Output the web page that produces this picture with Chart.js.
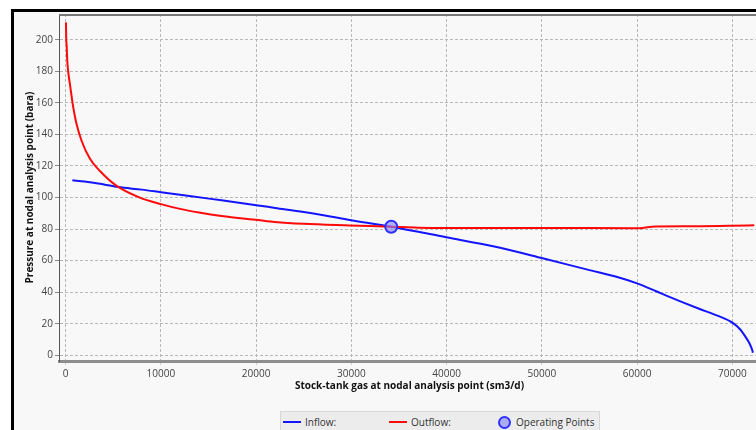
<!DOCTYPE html>
<html>
<head>
<meta charset="utf-8">
<script src="https://cdn.jsdelivr.net/npm/chart.js@4.4.0/dist/chart.umd.min.js"></script>
<style>
  html, body { margin: 0; padding: 0; background: #fff; overflow: hidden; width: 756px; height: 430px; }
  #frame {
    position: absolute; left: 11px; top: 9px; width: 800px; height: 440px;
    border-left: 3px solid #000; border-top: 3px solid #000; background: #f8f8f8;
  }
  #chart { position: absolute; left: 0; top: -6px; display: block; }
  #legend {
    position: absolute; left: 266px; top: 399px; width: 318px; height: 30px;
    background: #ececec; border: 1px solid #d6d6d6;
    font: 10px "Open Sans", sans-serif; color: #333;
  }
  .item { position: absolute; top: 0; height: 20px; display: flex; align-items: center; white-space: nowrap; }
  .swatch-line { width: 18px; height: 2px; margin-right: 4px; }
  .swatch-dot { width: 9px; height: 9px; border-radius: 50%; border: 2px solid; margin-right: 5px; }
</style>
</head>
<body>
<div id="frame">
  <canvas id="chart" width="754" height="397"></canvas>
  <div id="legend"></div>
</div>
<script>
// Inflow performance curve (gas rate sm3/d, pressure bara)
const inflowRate = [700, 2000, 4000, 5520, 8000, 10000, 13000, 16360, 20200, 22000, 25000, 29800, 34180, 39950, 45000, 50080, 55000, 58000, 60000, 62000, 63000, 66500, 68500, 70000, 70800, 71400, 71800, 72100, 72150];
const inflowPressure = [110.9, 110.2, 108.3, 106.6, 105.0, 103.4, 101.0, 98.2, 95.0, 93.4, 90.8, 85.8, 81.5, 74.8, 68.9, 61.5, 54.0, 49.5, 45.6, 40.6, 38.0, 29.5, 25.0, 20.7, 16.5, 11.5, 7.5, 3.0, 1.6];

// Outflow (tubing) performance curve
const outflowRate = [30, 60, 100, 170, 300, 450, 800, 1150, 1680, 2550, 3600, 5320, 7790, 10000, 12000, 14000, 16360, 20200, 21950, 25000, 29800, 34180, 37000, 40000, 50000, 60200, 61900, 66000, 70000, 72300];
const outflowPressure = [211, 200, 197, 186.5, 178, 171.7, 157, 146.4, 135.8, 124.5, 116.8, 107.5, 99.9, 95.8, 92.8, 90.5, 88.3, 85.7, 84.5, 83.3, 82.3, 81.5, 80.9, 80.7, 80.7, 80.6, 81.7, 81.8, 82.1, 82.4];

// Intersection of the two curves
const operatingRate = [34180];
const operatingPressure = [81.5];

// Axis tick values
const xTicks = [0, 10000, 20000, 30000, 40000, 50000, 60000, 70000];
const yTicks = [0, 20, 40, 60, 80, 100, 120, 140, 160, 180, 200];

const pts = (xs, ys) => xs.map((x, i) => ({ x, y: ys[i] }));

const FONT = '"Open Sans", sans-serif';

const datasets = [
  {
    label: 'Inflow:', data: pts(inflowRate, inflowPressure), showLine: true,
    borderColor: '#1414ff', borderWidth: 2, pointRadius: 0, cubicInterpolationMode: 'monotone',
    order: 2, legendKind: 'line'
  },
  {
    label: 'Outflow:', data: pts(outflowRate, outflowPressure), showLine: true,
    borderColor: '#ff0a0a', borderWidth: 2, pointRadius: 0, cubicInterpolationMode: 'monotone',
    order: 1, legendKind: 'line'
  },
  {
    label: 'Operating Points', data: pts(operatingRate, operatingPressure), showLine: false,
    pointRadius: 6, pointBorderWidth: 2, borderColor: '#3030ff', backgroundColor: 'rgba(130,130,250,0.6)',
    order: 0, legendKind: 'dot'
  }
];

// Solid grey line along the top of the plot area
const topEdge = {
  id: 'topEdge',
  afterDraw(chart) {
    const { ctx, chartArea } = chart;
    ctx.save();
    ctx.strokeStyle = '#777';
    ctx.lineWidth = 2;
    ctx.beginPath();
    ctx.moveTo(chartArea.left, chartArea.top + 1);
    ctx.lineTo(chartArea.right, chartArea.top + 1);
    ctx.stroke();
    ctx.restore();
  }
};

const fixedTicks = values => scale => { scale.ticks = values.map(value => ({ value })); };

new Chart(document.getElementById('chart'), {
  type: 'scatter',
  data: { datasets },
  options: {
    responsive: false,
    animation: false,
    events: [],
    layout: { padding: { top: 1, right: 0, left: 0, bottom: 0 } },
    plugins: { legend: { display: false }, tooltip: { enabled: false } },
    scales: {
      x: {
        type: 'linear', min: -700, max: 72900,
        afterBuildTicks: fixedTicks(xTicks),
        afterFit(s) { s.height = 42; s.paddingLeft = 0; s.paddingRight = 0; },
        ticks: {
          padding: 3, maxRotation: 0, autoSkip: false,
          font: { family: FONT, size: 10 }, color: '#444',
          callback: v => String(v)
        },
        grid: { color: '#b8b8b8', lineWidth: 1, tickLength: 4, tickColor: '#cfcfcf' },
        border: { display: true, color: '#8e8e8e', width: 3, dash: [3, 2] },
        title: {
          display: true, text: 'Stock-tank gas at nodal analysis point (sm3/d)',
          font: { family: FONT, size: 10, weight: 'bold', lineHeight: 1.2 }, color: '#111',
          padding: { top: 0, bottom: 11 }
        }
      },
      y: {
        type: 'linear', min: -3.6, max: 216.3,
        afterBuildTicks: fixedTicks(yTicks),
        afterFit(s) { s.width = 45; s.paddingTop = 0; s.paddingBottom = 0; },
        ticks: {
          padding: 2, autoSkip: false,
          font: { family: FONT, size: 10 }, color: '#444',
          callback: v => String(v)
        },
        grid: { color: '#b8b8b8', lineWidth: 1, tickLength: 4, tickColor: '#8a8a8a' },
        border: { display: true, color: '#555', width: 1, dash: [3, 2] },
        title: {
          display: true, text: 'Pressure at nodal analysis point (bara)',
          font: { family: FONT, size: 10, weight: 'bold', lineHeight: 1.2 }, color: '#111',
          padding: { top: 10, bottom: 0 }
        }
      }
    }
  },
  plugins: [topEdge]
});

// Legend strip below the chart, built from the datasets
const legend = document.getElementById('legend');
const itemLeft = [2, 108, 217];
datasets.forEach((ds, i) => {
  const item = document.createElement('div');
  item.className = 'item';
  item.style.left = itemLeft[i] + 'px';
  const sw = document.createElement('span');
  if (ds.legendKind === 'line') {
    sw.className = 'swatch-line';
    sw.style.background = ds.borderColor;
  } else {
    sw.className = 'swatch-dot';
    sw.style.borderColor = ds.borderColor;
    sw.style.background = ds.backgroundColor;
  }
  const txt = document.createElement('span');
  txt.textContent = ds.label;
  item.appendChild(sw);
  item.appendChild(txt);
  legend.appendChild(item);
});
</script>
</body>
</html>
